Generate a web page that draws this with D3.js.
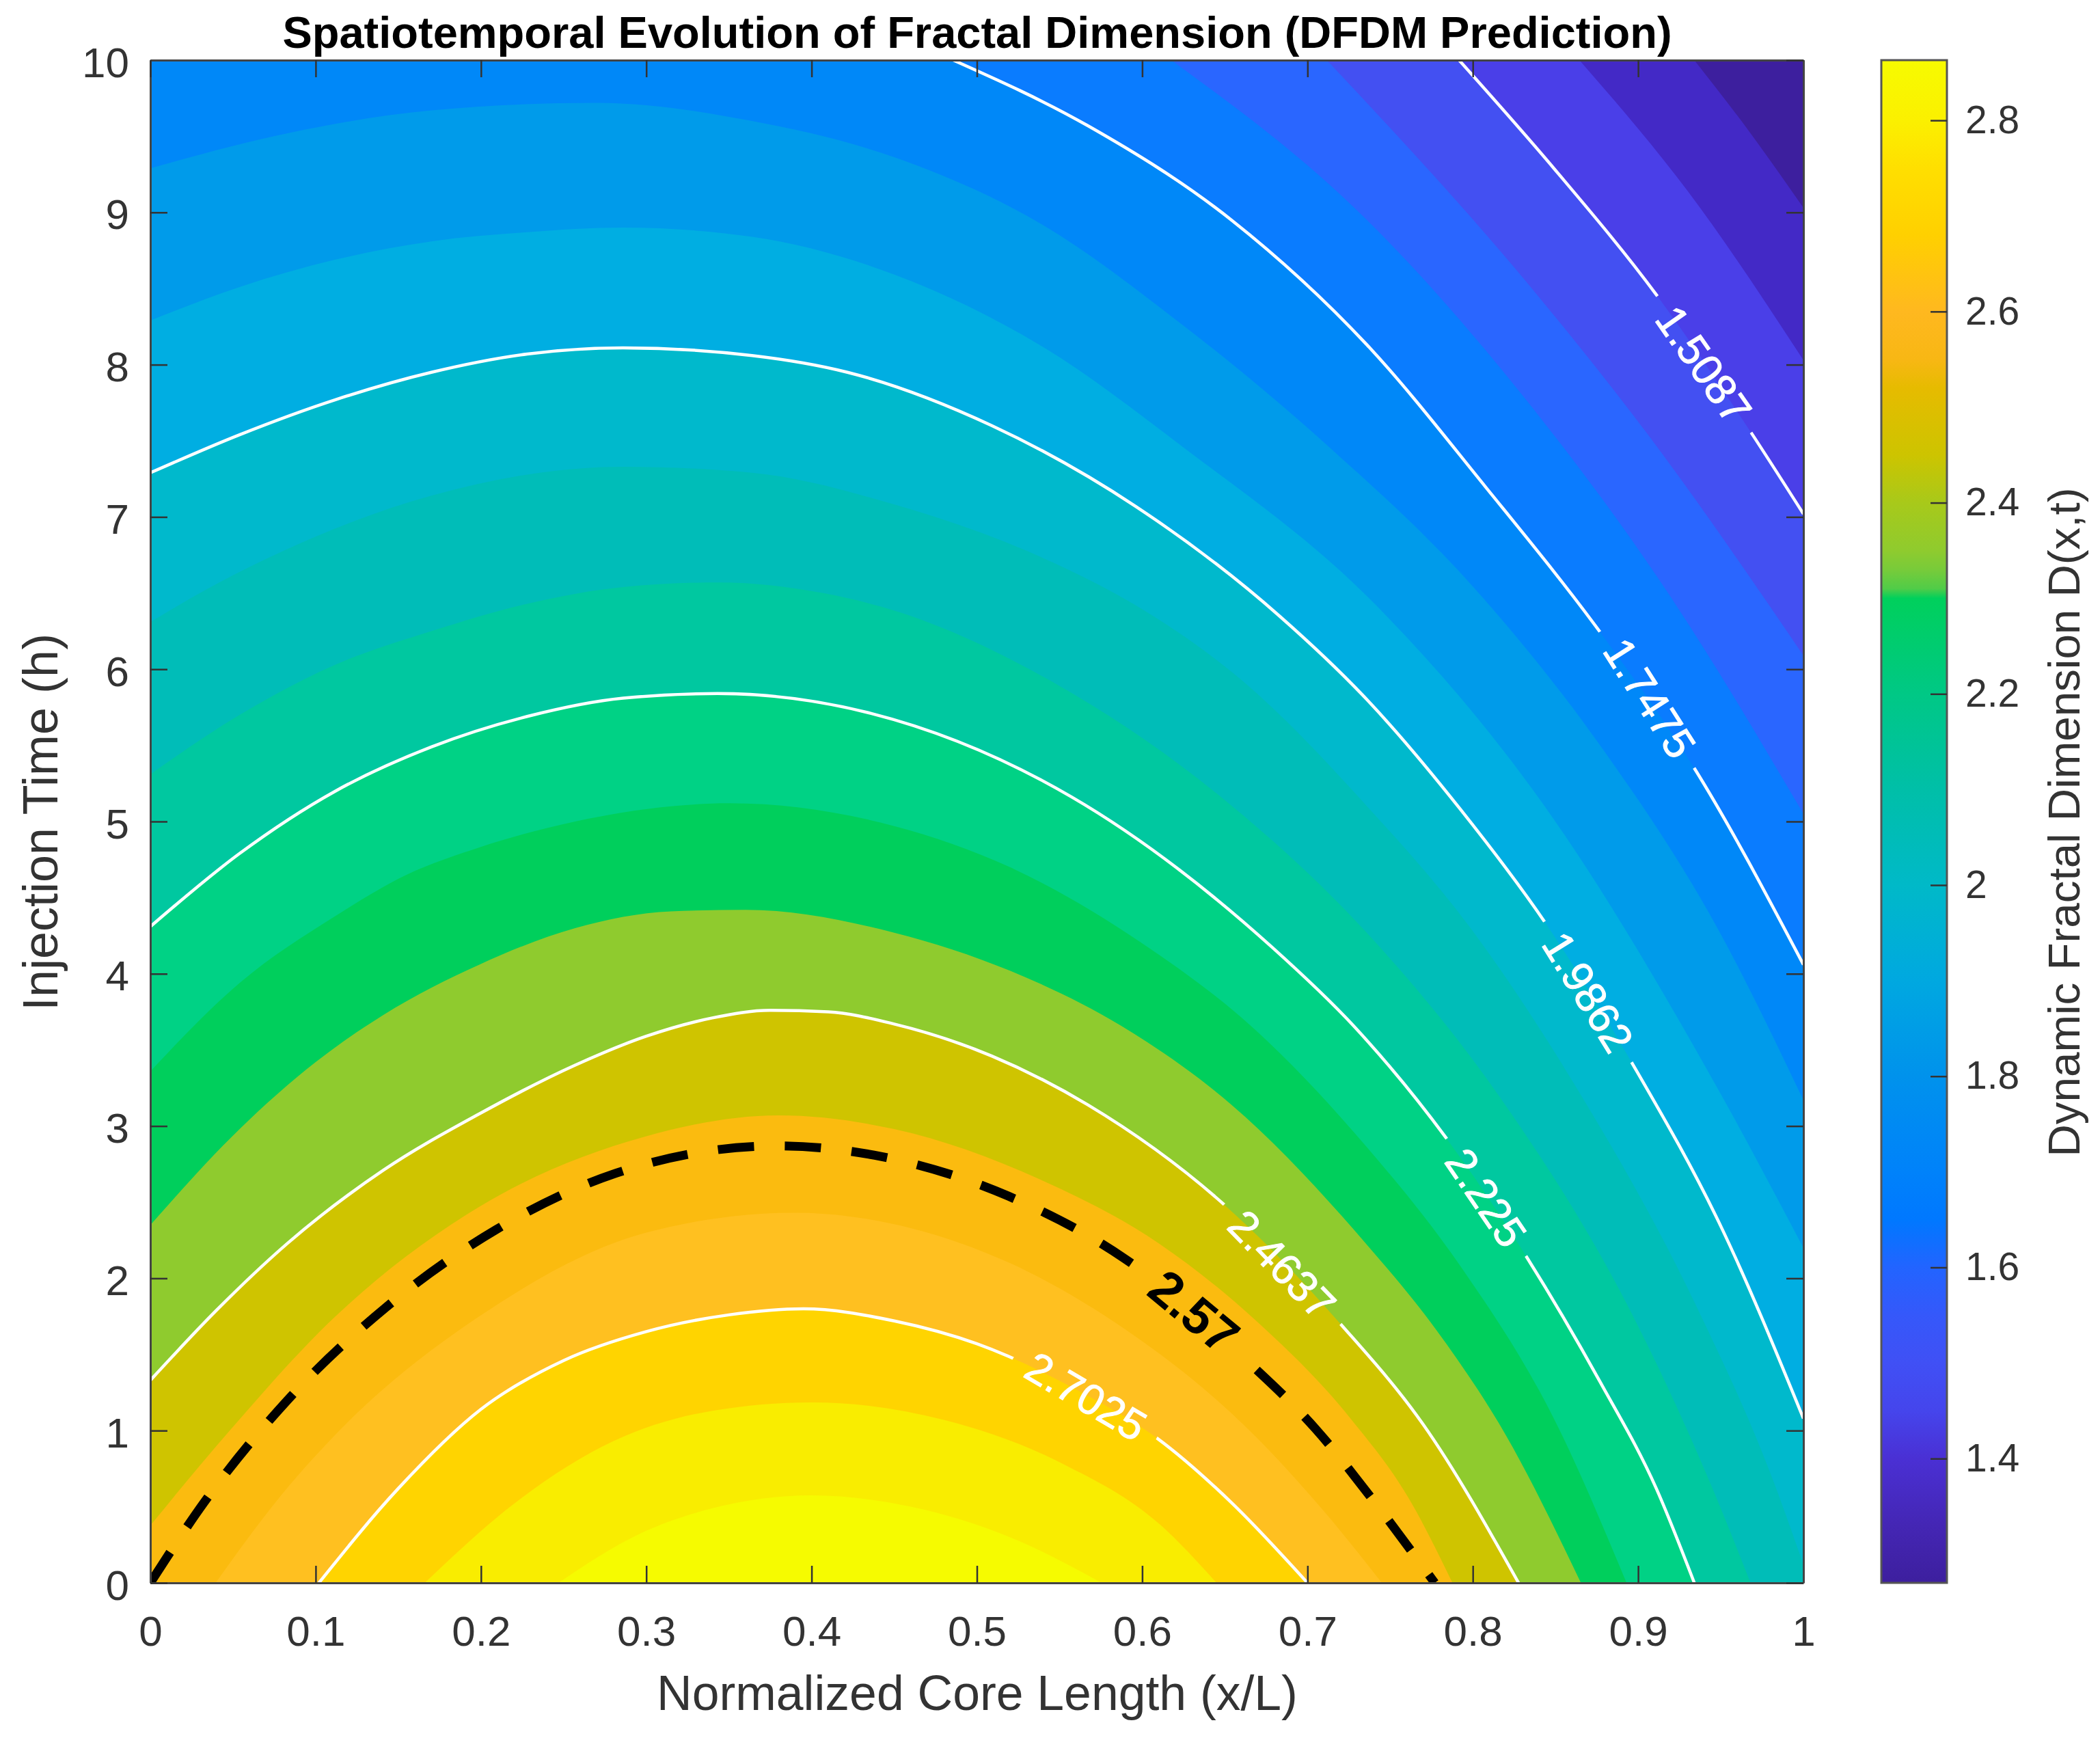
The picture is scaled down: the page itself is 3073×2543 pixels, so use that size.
<!DOCTYPE html>
<html>
<head>
<meta charset="utf-8">
<script src="https://cdn.jsdelivr.net/npm/d3@7"></script>
<style>
  html, body { margin: 0; padding: 0; background: #fff; }
  svg { display: block; }
  text { font-family: "Liberation Sans", Arial, sans-serif; }
</style>
</head>
<body>
<div id="chart"></div>
<script>
var w = 3073;
var h = 2543;

// contour lines, [x/L, t]
var c13496 = [[0.934,10],[0.968,9.52],[1,9.03]];
var c14292 = [[0.8645,10],[0.93,9.14],[1,8.03]];
var c15087 = [[0.7917,10],[0.849,9.29],[0.911,8.46],[0.968,7.56],[1,7.02]];
var c15883 = [[0.7117,10],[0.835,8.51],[0.906,7.54],[1,6.09]];
var c16679 = [[0.6176,10],[0.736,8.95],[0.83,7.8],[0.92,6.47],[1,5.05]];
var c17475 = [[0.4857,10],[0.567,9.57],[0.654,8.95],[0.736,8.13],[0.8075,7.2],[0.88,6.2],[0.934,5.35],[1,4.06]];
var c18271 = [[0,9.29],[0.083,9.52],[0.17,9.67],[0.27,9.72],[0.364,9.6],[0.4506,9.36],[0.538,8.93],[0.6246,8.26],[0.712,7.47],[0.7995,6.55],[0.877,5.5],[0.948,4.3],[1,3.17]];
var c19066 = [[0,8.29],[0.054,8.51],[0.112,8.69],[0.17,8.81],[0.228,8.87],[0.286,8.9],[0.364,8.84],[0.4506,8.59],[0.538,8.13],[0.6246,7.46],[0.7415,6.42],[0.8435,5.1],[0.95,3.21],[1,2.2]];
var c19862 = [[0,7.29],[0.054,7.54],[0.112,7.77],[0.17,7.95],[0.228,8.07],[0.286,8.11],[0.364,8.06],[0.4217,7.95],[0.509,7.6],[0.596,7.07],[0.683,6.35],[0.736,5.8],[0.7925,5.08],[0.8435,4.34],[0.896,3.42],[0.951,2.32],[1,1.08]];
var c20658 = [[0,6.31],[0.04,6.56],[0.083,6.79],[0.17,7.14],[0.286,7.33],[0.364,7.29],[0.4506,7.08],[0.538,6.74],[0.596,6.42],[0.66,5.93],[0.736,5.1],[0.8,4.28],[0.86,3.3],[0.936,1.8],[0.98,0.72],[1,0.12]];
var c21454 = [[0,5.31],[0.054,5.7],[0.112,6.03],[0.17,6.25],[0.228,6.43],[0.286,6.54],[0.344,6.57],[0.407,6.5],[0.4423,6.41],[0.55,5.89],[0.65,5.14],[0.74,4.22],[0.815,3.21],[0.897,1.75],[0.945,0.62],[0.968,0]];
var c22250 = [[0,4.31],[0.054,4.79],[0.112,5.2],[0.17,5.49],[0.228,5.69],[0.286,5.81],[0.343,5.84],[0.436,5.71],[0.5575,5.16],[0.679,4.17],[0.7277,3.66],[0.784,2.92],[0.832,2.15],[0.877,1.32],[0.911,0.62],[0.934,0]];
var c23045 = [[0,3.36],[0.054,3.94],[0.112,4.38],[0.155,4.65],[0.199,4.83],[0.257,5],[0.315,5.1],[0.35,5.12],[0.45,4.97],[0.52,4.7],[0.6,4.2],[0.6655,3.66],[0.736,2.86],[0.7925,2.08],[0.849,1.08],[0.893,0]];
var c23841 = [[0,2.35],[0.054,2.98],[0.1,3.42],[0.141,3.73],[0.199,4.06],[0.257,4.3],[0.315,4.41],[0.36,4.42],[0.45,4.27],[0.52,4.02],[0.587,3.66],[0.654,3.14],[0.736,2.22],[0.778,1.66],[0.82,0.97],[0.8654,0]];
var c24637 = [[0,1.33],[0.04,1.79],[0.083,2.23],[0.141,2.71],[0.199,3.08],[0.257,3.4],[0.3,3.59],[0.34,3.71],[0.375,3.76],[0.41,3.75],[0.45,3.67],[0.509,3.46],[0.567,3.14],[0.65,2.48],[0.72,1.7],[0.77,1.04],[0.8277,0]];
var c25433 = [[0,0.377],[0.048,1],[0.112,1.75],[0.199,2.47],[0.299,2.93],[0.38,3.07],[0.45,2.98],[0.538,2.65],[0.61,2.23],[0.668,1.73],[0.726,1.08],[0.761,0.56],[0.7877,0]];
var c26229 = [[0.0395,0],[0.075,0.52],[0.112,0.974],[0.199,1.75],[0.3,2.3],[0.39,2.43],[0.46,2.33],[0.52,2.1],[0.585,1.7],[0.665,1],[0.71,0.47],[0.745,0]];
var c27025 = [[0.102,0],[0.15,0.62],[0.2,1.14],[0.25,1.46],[0.3,1.65],[0.35,1.76],[0.395,1.8],[0.45,1.72],[0.5,1.57],[0.56,1.27],[0.609,0.95],[0.654,0.527],[0.7,0]];
var c27821 = [[0.166,0],[0.22,0.52],[0.28,0.93],[0.34,1.13],[0.4,1.185],[0.48,1.07],[0.5523,0.78],[0.61,0.39],[0.645,0]];
var c28617 = [[0.247,0],[0.29,0.29],[0.34,0.49],[0.4,0.575],[0.46,0.5],[0.52,0.3],[0.5755,0]];
var c25700 = [[0,0],[0.0323,0.525],[0.083,1.2],[0.1426,1.81],[0.2092,2.32],[0.2816,2.69],[0.38,2.87],[0.442,2.8],[0.519,2.54],[0.59,2.125],[0.6625,1.467],[0.705,1.01],[0.742,0.51],[0.777,0]];

var fillContours = [c13496, c14292, c15087, c15883, c16679, c17475, c18271, c19066, c19862, c20658, c21454, c22250, c23045, c23841, c24637, c25433, c26229, c27025, c27821, c28617];
var bandColors = ["#3d1f9e","#4329c6","#4a3fe8","#4350f2","#2a66ff","#0a7cff","#0088f8","#009bea","#00aee2","#00b9cc","#00bdb8","#00c8a0","#00d285","#00cf5c","#8fcb2e","#cfc400","#fbbb0f","#ffc020","#ffd400","#f9ed00","#f6fb00"];
var whiteContours = [c15087, c17475, c19862, c22250, c24637, c27025];

// clabel texts: text, x/L, t, angle
var labelTexts = ["1.5087","1.7475","1.9862","2.225","2.4637","2.7025","2.57"];
var labelX = [0.9397,0.907,0.8696,0.808,0.6846,0.566,0.6313];
var labelT = [8.0,5.81,3.88,2.53,2.09,1.225,1.78];
var labelAngle = [55,57.5,58.3,55.7,45.8,30.5,39.8];
var labelGap = [242,242,242,207,244,240,228];

var xTicks = [0,0.1,0.2,0.3,0.4,0.5,0.6,0.7,0.8,0.9,1];
var yTicks = [0,1,2,3,4,5,6,7,8,9,10];
var cbTicks = [1.4,1.6,1.8,2,2.2,2.4,2.6,2.8];
var cbStopValues = [1.27,1.33,1.4,1.45,1.5,1.55,1.6,1.65,1.7,1.8,1.9,2,2.1,2.2,2.3,2.31,2.33,2.35,2.4,2.45,2.52,2.55,2.6,2.68,2.75,2.8,2.863];
var cbStopColors = ["#3d1f9e","#4426b4","#4a30d4","#4545ec","#4050f5","#3558fa","#2264ff","#0078ff","#0082fa","#0092ec","#00a8e0","#00b9c8","#00bfa8","#00c885","#00d05c","#50cc48","#78cb3a","#8fcb2e","#a8c91a","#cdc400","#e6bb00","#f8b714","#ffb81f","#ffd000","#ffdf00","#fbf000","#f7fb00"];

var plotL = 220, plotR = 2639, plotT = 88, plotB = 2316;
var cbL = 2753, cbR = 2849;

var svg = d3.select("#chart").append("svg").attr("width", w).attr("height", h);
var defs = svg.append("defs");

var x = d3.scaleLinear().domain([0, 1]).range([plotL, plotR]);
var y = d3.scaleLinear().domain([0, 10]).range([plotB, plotT]);
var cb = d3.scaleLinear().domain([1.27, 2.863]).range([plotB, plotT]);

var line = d3.line()
  .x(function (d) { return x(d[0]); })
  .y(function (d) { return y(d[1]); })
  .curve(d3.curveMonotoneX);

// region under a contour, closed along the axes
const regionPath = (pts) => {
  var first = pts[0], last = pts[pts.length - 1];
  var p = line(pts);
  if (last[0] === 1) p += "L" + x(1) + "," + y(0);
  if (first[0] === 0 || first[1] === 10) p += "L" + x(0) + "," + y(0);
  if (first[1] === 10) p += "L" + x(0) + "," + y(10);
  return p + "Z";
};

defs.append("clipPath").attr("id", "plotClip").append("rect")
  .attr("x", plotL).attr("y", plotT).attr("width", plotR - plotL).attr("height", plotB - plotT);

// gaps in the lines under the labels
var mask = defs.append("mask").attr("id", "labelGaps").attr("maskUnits", "userSpaceOnUse")
  .attr("x", 0).attr("y", 0).attr("width", w).attr("height", h);
mask.append("rect").attr("width", w).attr("height", h).attr("fill", "#fff");
labelTexts.forEach(function (t, i) {
  mask.append("rect")
    .attr("x", -labelGap[i] / 2).attr("y", -16)
    .attr("width", labelGap[i]).attr("height", 32)
    .attr("fill", "#000")
    .attr("transform", "translate(" + x(labelX[i]) + "," + y(labelT[i]) + ") rotate(" + labelAngle[i] + ")");
});

// filled bands, lowest first
var plot = svg.append("g").attr("clip-path", "url(#plotClip)");
plot.append("rect")
  .attr("x", plotL).attr("y", plotT).attr("width", plotR - plotL).attr("height", plotB - plotT)
  .attr("fill", bandColors[0]);
plot.selectAll("path.band")
  .data(fillContours)
  .enter()
  .append("path")
  .attr("class", "band")
  .attr("d", regionPath)
  .attr("fill", function (d, i) { return bandColors[i + 1]; });

// contour lines
var lines = plot.append("g").attr("mask", "url(#labelGaps)");
lines.selectAll("path.white")
  .data(whiteContours)
  .enter()
  .append("path")
  .attr("class", "white")
  .attr("d", line)
  .attr("fill", "none")
  .attr("stroke", "#fff")
  .attr("stroke-width", 4.5);
lines.append("path")
  .attr("d", line(c25700))
  .attr("fill", "none")
  .attr("stroke", "#000")
  .attr("stroke-width", 13)
  .attr("stroke-dasharray", "53,45");

// contour labels
svg.selectAll("text.clabel")
  .data(labelTexts)
  .enter()
  .append("text")
  .attr("class", "clabel")
  .attr("transform", function (d, i) {
    return "translate(" + x(labelX[i]) + "," + y(labelT[i]) + ") rotate(" + labelAngle[i] + ")";
  })
  .attr("text-anchor", "middle")
  .attr("dominant-baseline", "central")
  .attr("font-size", function (d) { return d === "2.57" ? 74 : 63; })
  .attr("font-weight", function (d) { return d === "2.57" ? "bold" : "normal"; })
  .attr("fill", function (d) { return d === "2.57" ? "#000" : "#fff"; })
  .attr("stroke", function (d) { return d === "2.57" ? "none" : "#fff"; })
  .attr("stroke-width", 1)
  .text(function (d) { return d; });

// axes
const styleAxis = (g, size) => {
  g.selectAll("text").attr("font-size", size).attr("fill", "#333").attr("font-family", '"Liberation Sans", Arial, sans-serif');
  g.selectAll("line").attr("stroke", "#333").attr("stroke-width", 2.5);
  g.select(".domain").attr("stroke", "#444").attr("stroke-width", 3);
};

svg.append("g").attr("transform", "translate(0," + plotB + ")")
  .call(d3.axisBottom(x).tickValues(xTicks).tickFormat(d3.format("")).tickSizeInner(-25).tickSizeOuter(0).tickPadding(48))
  .call(styleAxis, 62);
svg.append("g").attr("transform", "translate(" + plotL + ",0)")
  .call(d3.axisLeft(y).tickValues(yTicks).tickSizeInner(-25).tickSizeOuter(0).tickPadding(31))
  .call(styleAxis, 62)
  .call(function (g) { g.selectAll("text").attr("dy", "0.39em"); });
svg.append("g").attr("transform", "translate(0," + plotT + ")")
  .call(d3.axisTop(x).tickValues(xTicks).tickFormat("").tickSizeInner(-25).tickSizeOuter(0))
  .call(styleAxis, 62);
svg.append("g").attr("transform", "translate(" + plotR + ",0)")
  .call(d3.axisRight(y).tickValues(yTicks).tickFormat("").tickSizeInner(-25).tickSizeOuter(0))
  .call(styleAxis, 62);

// colorbar
var grad = defs.append("linearGradient").attr("id", "cbGrad")
  .attr("x1", 0).attr("x2", 0).attr("y1", 1).attr("y2", 0);
cbStopValues.forEach(function (v, i) {
  grad.append("stop")
    .attr("offset", (v - 1.27) / (2.863 - 1.27))
    .attr("stop-color", cbStopColors[i]);
});
svg.append("rect")
  .attr("x", cbL).attr("y", plotT).attr("width", cbR - cbL).attr("height", plotB - plotT)
  .attr("fill", "url(#cbGrad)")
  .attr("stroke", "#555").attr("stroke-width", 3);
svg.append("g").attr("transform", "translate(" + cbR + ",0)")
  .call(d3.axisRight(cb).tickValues(cbTicks).tickFormat(d3.format("")).tickSizeInner(-24).tickSizeOuter(0).tickPadding(27))
  .call(styleAxis, 57)
  .call(function (g) { g.select(".domain").remove(); });

// titles
svg.append("text")
  .attr("x", 1430).attr("y", 70)
  .attr("text-anchor", "middle")
  .attr("font-size", 65).attr("font-weight", "bold").attr("fill", "#000")
  .text("Spatiotemporal Evolution of Fractal Dimension (DFDM Prediction)");
svg.append("text")
  .attr("x", 1430).attr("y", 2502)
  .attr("text-anchor", "middle")
  .attr("font-size", 71.5).attr("fill", "#333")
  .text("Normalized Core Length (x/L)");
svg.append("text")
  .attr("transform", "translate(84,1203) rotate(-90)")
  .attr("text-anchor", "middle")
  .attr("font-size", 72).attr("fill", "#333")
  .text("Injection Time (h)");
svg.append("text")
  .attr("transform", "translate(3043,1203) rotate(-90)")
  .attr("text-anchor", "middle")
  .attr("font-size", 65.5).attr("fill", "#333")
  .text("Dynamic Fractal Dimension D(x,t)");
</script>
</body>
</html>
